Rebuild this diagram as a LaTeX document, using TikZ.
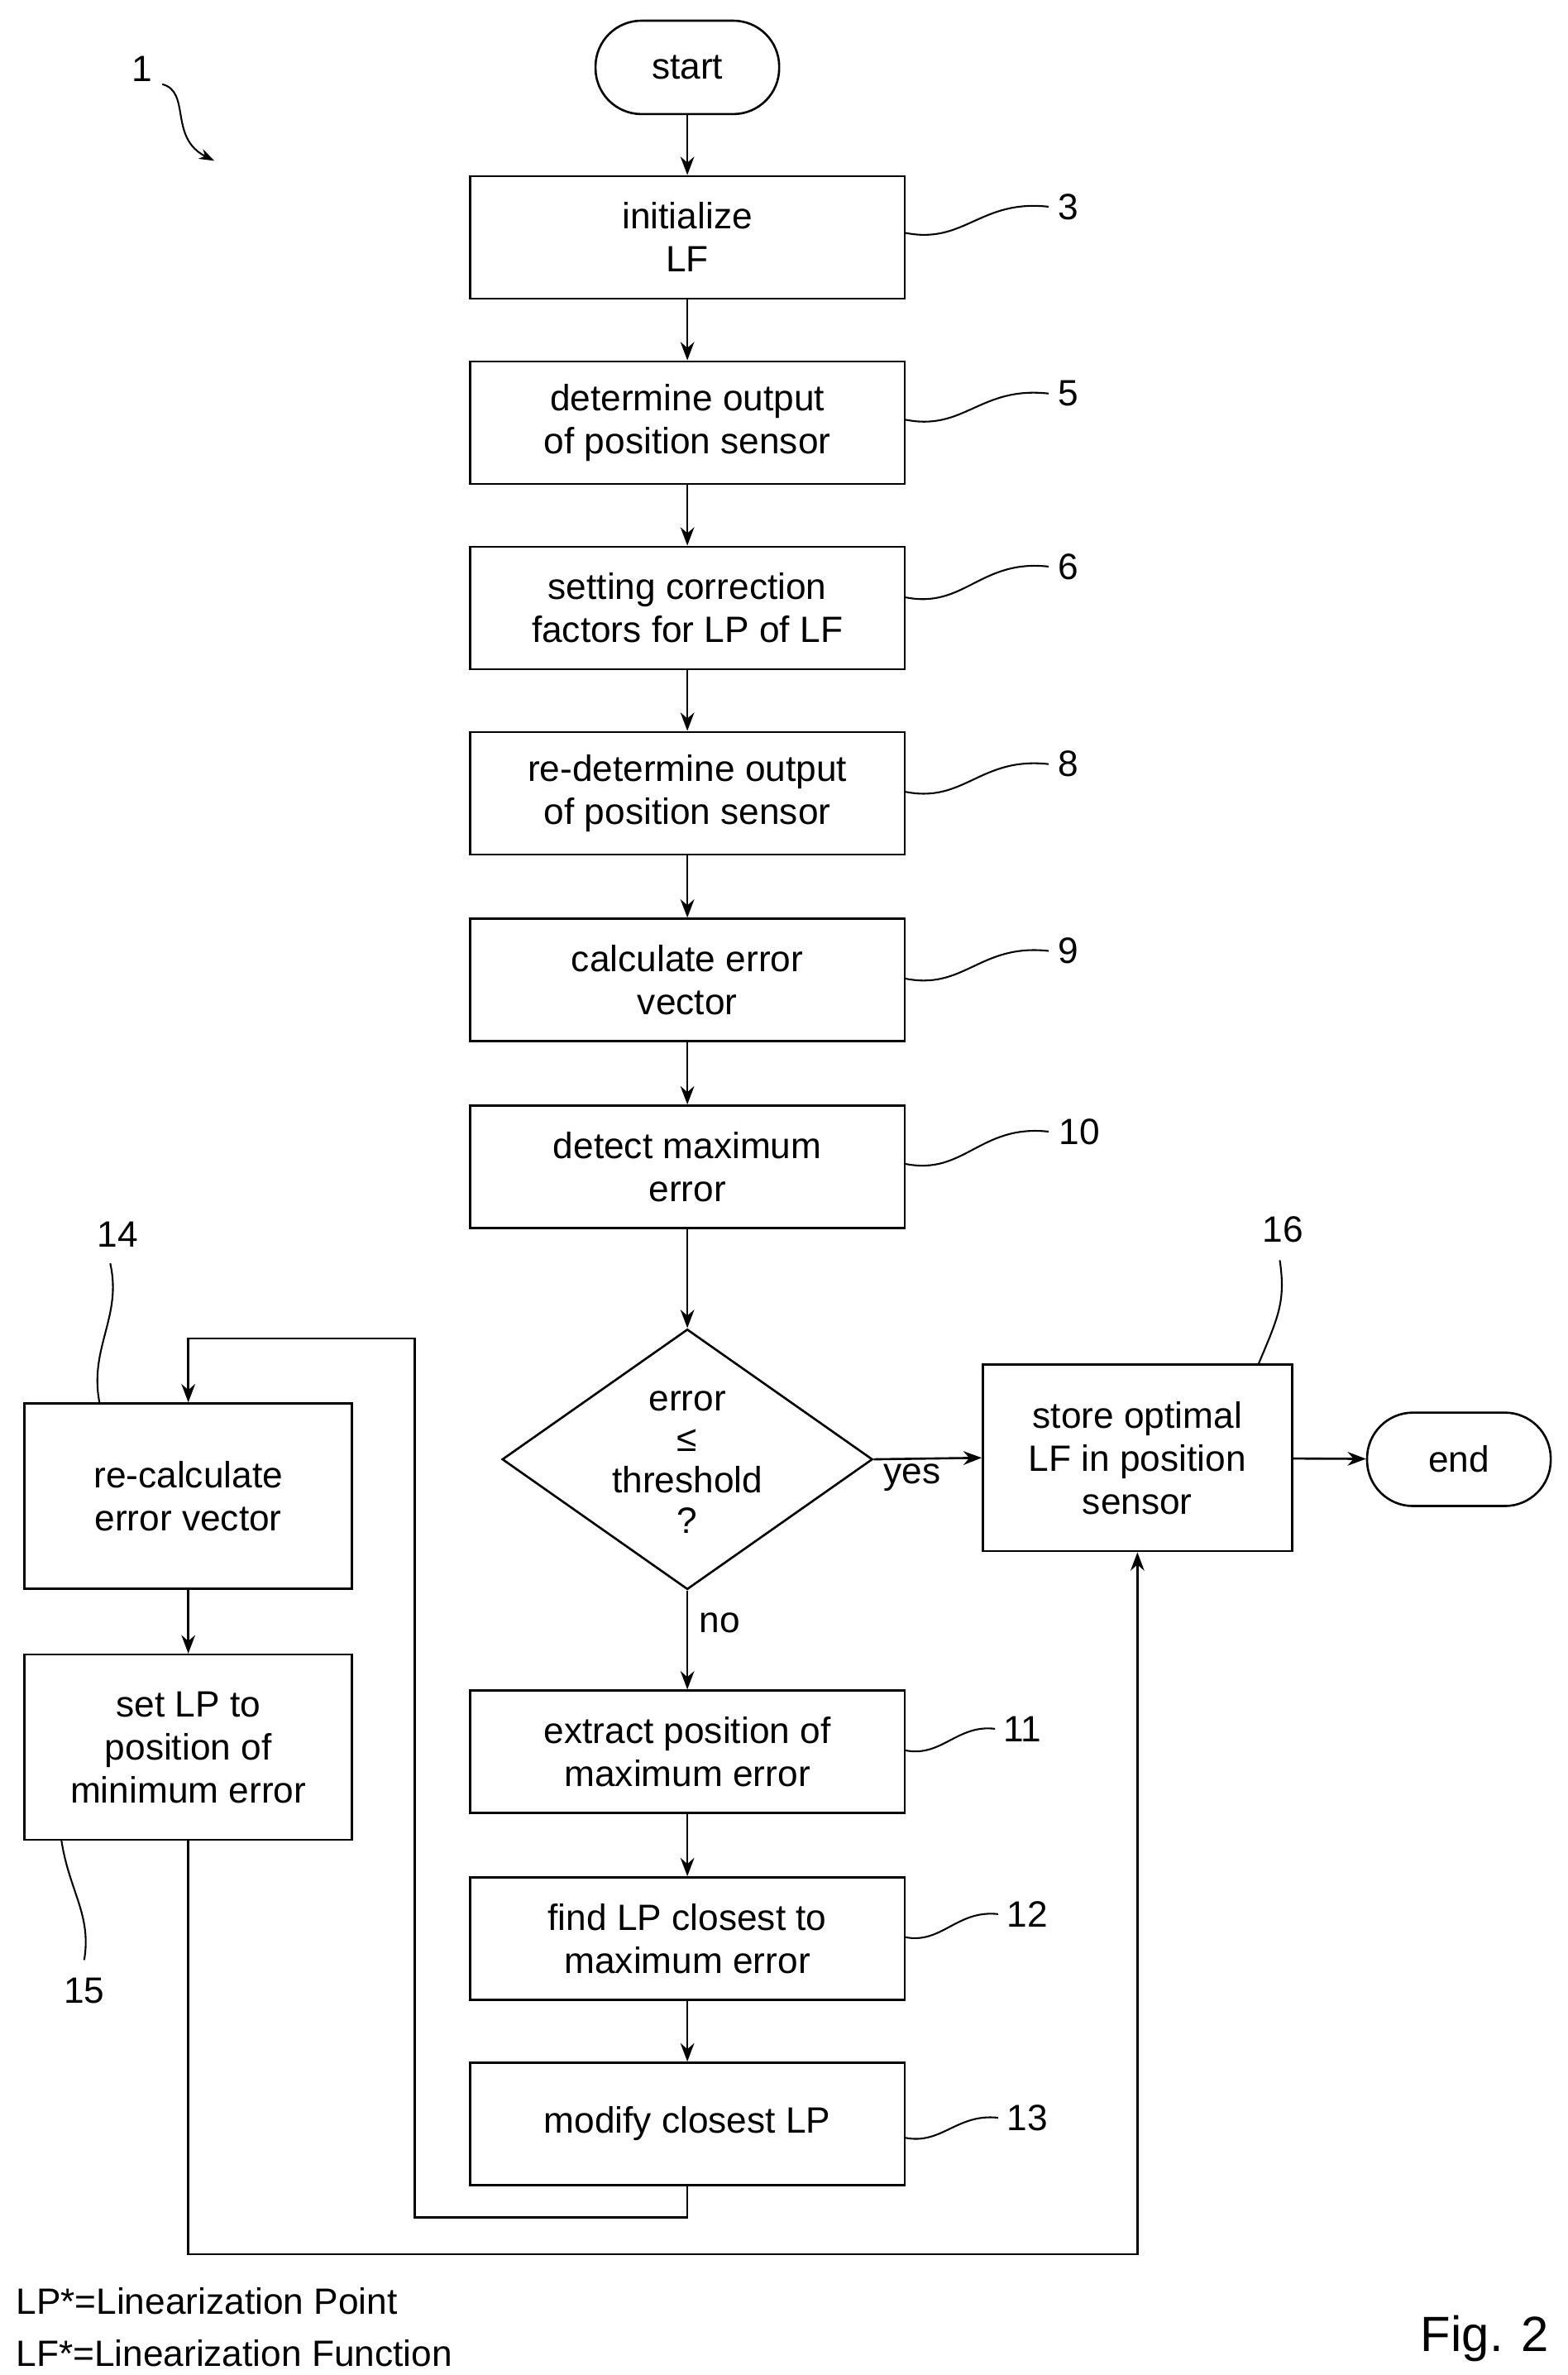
\documentclass[tikz,border=0pt]{standalone}
\usepackage{fontspec}
\setmainfont{Liberation Sans}
\usetikzlibrary{shapes.geometric,arrows.meta}
\begin{document}
\begin{tikzpicture}[x=0.05cm,y=-0.05cm,
  every node/.style={font=\fontsize{34}{40}\selectfont},
  box/.style={draw,line width=2pt,minimum width=14.2cm,minimum height=4cm,align=center,inner sep=0pt},
  sbox/.style={draw,line width=2pt,minimum width=10.7cm,minimum height=6.05cm,align=center,inner sep=0pt},
  term/.style={draw,line width=2pt,rounded corners=1.5cm,minimum width=6cm,minimum height=3.05cm,inner sep=0pt},
  ar/.style={line width=2pt,-{Stealth[length=0.6cm,width=0.45cm]}},
  ln/.style={line width=2pt},
  lead/.style={line width=1.6pt}]
\useasboundingbox (0,0) rectangle (1024,1551);
\node[term] (start) at (449,44) {start};
\node[box] (b3) at (449,155) {initialize\\LF};
\node[box] (b5) at (449,276) {determine output\\of position sensor};
\node[box] (b6) at (449,397) {setting correction\\factors for LP of LF};
\node[box] (b8) at (449,518) {re-determine output\\of position sensor};
\node[box] (b9) at (449,640) {calculate error\\vector};
\node[box] (b10) at (449,762) {detect maximum\\error};
\node[draw,line width=2pt,diamond,minimum width=12.1cm,minimum height=8.5cm,inner sep=0pt,align=center] (d) at (449,953) {};
\node[align=center,font=\fontsize{34}{38}\selectfont] (dt) at (449,955) {error\\≤\\threshold\\?};
\node[box] (b11) at (449,1144) {extract position of\\maximum error};
\node[box] (b12) at (449,1266) {find LP closest to\\maximum error};
\node[box] (b13) at (449,1387) {modify closest LP};
\node[sbox] (b14) at (123,977) {re-calculate\\error vector};
\node[sbox] (b15) at (123,1141) {set LP to\\position of\\minimum error};
\node[draw,line width=2pt,minimum width=10.1cm,minimum height=6.1cm,align=center,inner sep=0pt] (b16) at (743,952) {store optimal\\LF in position\\sensor};
\node[term] (end) at (953,953) {end};
\draw[ar] (start) -- (b3);
\draw[ar] (b3) -- (b5);
\draw[ar] (b5) -- (b6);
\draw[ar] (b6) -- (b8);
\draw[ar] (b8) -- (b9);
\draw[ar] (b9) -- (b10);
\draw[ar] (b10) -- (d.north);
\draw[ar] (d.east) -- (b16.west);
\draw[ar] (d.south) -- (b11);
\draw[ar] (b11) -- (b12);
\draw[ar] (b12) -- (b13);
\draw[ar] (b16) -- (end);
\draw[ar] (b14) -- (b15);
\coordinate (l1) at (449,1448); \coordinate (l2) at (271,1448);
\coordinate (l3) at (271,874); \coordinate (l4) at (123,874);
\draw[ar] (b13.south) -- (l1) -- (l2) -- (l3) -- (l4) -- (b14.north);
\coordinate (m1) at (123,1472); \coordinate (m2) at (743,1472);
\draw[ar] (b15.south) -- (m1) -- (m2) -- (b16.south);
\node (yes) at (596,965) {yes};
\node (no) at (470,1060) {no};
% reference labels
\node (n3) at (698,135) {3};
\draw[lead] (591,152) .. controls (630,160) and (640,130) .. (685,135);
\node (n5) at (698,257) {5};
\draw[lead] (591,274) .. controls (630,282) and (640,252) .. (685,257);
\node (n6) at (698,370) {6};
\draw[lead] (591,390) .. controls (630,398) and (640,365) .. (685,370);
\node (n8) at (698,499) {8};
\draw[lead] (591,517) .. controls (630,525) and (640,494) .. (685,499);
\node (n9) at (698,621) {9};
\draw[lead] (591,639) .. controls (630,647) and (640,616) .. (685,621);
\node (n10) at (705,739) {10};
\draw[lead] (591,760) .. controls (630,768) and (640,734) .. (685,739);
\node (n11) at (668,1129) {11};
\draw[lead] (591,1143) .. controls (615,1148) and (625,1126) .. (650,1129);
\node (n12) at (671,1250) {12};
\draw[lead] (591,1265) .. controls (615,1270) and (625,1247) .. (652,1250);
\node (n13) at (671,1383) {13};
\draw[lead] (591,1396) .. controls (615,1401) and (625,1380) .. (652,1383);
\node (n14) at (77,806) {14};
\draw[lead] (65,916) .. controls (58,880) and (80,860) .. (72,825);
\node (n15) at (55,1300) {15};
\draw[lead] (40,1201) .. controls (45,1235) and (60,1250) .. (55,1280);
\node (n16) at (838,803) {16};
\draw[lead] (822,891) .. controls (835,860) and (840,850) .. (836,823);
\node (n1) at (93,45) {1};
\draw[lead,-{Stealth[length=0.5cm,width=0.35cm]}] (106,55) .. controls (125,60) and (110,90) .. (140,105);
\node[anchor=west] (f1) at (8,1503) {LP*=Linearization Point};
\node[anchor=west] (f2) at (8,1537) {LF*=Linearization Function};
\node[font=\fontsize{46}{52}\selectfont] (fig) at (970,1527) {Fig. 2};
\end{tikzpicture}
\end{document}
